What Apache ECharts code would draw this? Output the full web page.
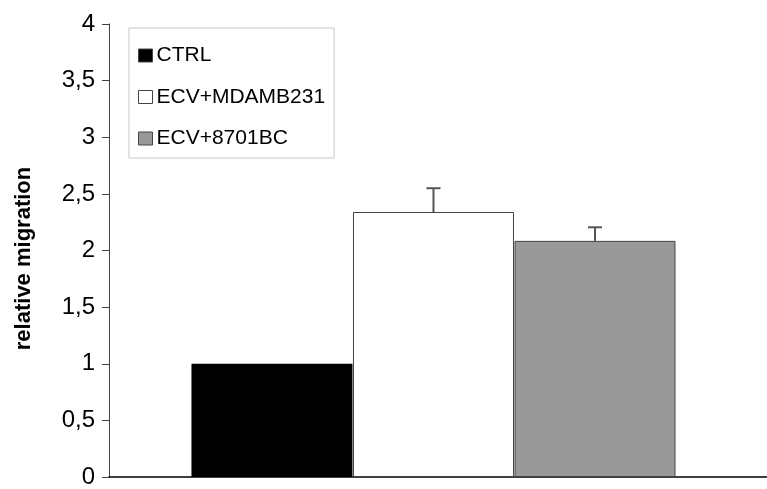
<!DOCTYPE html>
<html>
<head>
<meta charset="utf-8">
<script src="https://cdn.jsdelivr.net/npm/echarts@6/dist/echarts.min.js"></script>
<style>
html,body{margin:0;padding:0;background:#fff;}
#c{width:767px;height:489px;}
</style>
</head>
<body>
<div id="c"></div>
<script>
var seriesNames = ['CTRL', 'ECV+MDAMB231', 'ECV+8701BC'];
var positions = [0, 1, 2];
var values = [1.0, 2.34, 2.085];
var errors = [0, 0.21, 0.12];
var colors = ['#000000', '#ffffff', '#999999'];
var yTicks = [0, 0.5, 1, 1.5, 2, 2.5, 3, 3.5, 4];

var chart = echarts.init(document.getElementById('c'));
var font = '"Liberation Sans", Arial, sans-serif';

var series = seriesNames.map(function (name, i) {
  return {
    name: name,
    type: 'bar',
    barWidth: 161,
    barGap: '-100%',
    data: [[positions[i], values[i]]],
    itemStyle: {
      color: colors[i],
      borderColor: i === 0 ? '#000' : '#444',
      borderWidth: i === 0 ? 0 : 1
    },
    z: 2
  };
});

series.push({
  type: 'custom',
  name: 'err',
  data: positions.map(function (p, i) { return [p, values[i], errors[i]]; }),
  renderItem: function (params, api) {
    var err = api.value(2);
    if (!err) return null;
    var x = api.value(0), v = api.value(1);
    var top = api.coord([x, v]);
    var hi = api.coord([x, v + err]);
    var half = 7;
    return {
      type: 'group',
      children: [
        {type: 'line', shape: {x1: top[0], y1: top[1], x2: hi[0], y2: hi[1]}, style: {stroke: '#555', lineWidth: 2}},
        {type: 'line', shape: {x1: hi[0] - half, y1: hi[1], x2: hi[0] + half, y2: hi[1]}, style: {stroke: '#555', lineWidth: 2}}
      ]
    };
  },
  z: 3,
  silent: true
});

chart.setOption({
  animation: false,
  backgroundColor: '#fff',
  grid: {left: 109, right: 0, top: 24, bottom: 7, containLabel: false},
  legend: {
    data: seriesNames,
    orient: 'vertical',
    left: 129,
    top: 28,
    padding: [17, 9, 9, 9],
    itemGap: 20.5,
    itemWidth: 14,
    itemHeight: 13,
    borderColor: '#c8c8c8',
    borderWidth: 1,
    backgroundColor: '#fff',
    icon: 'rect',
    textStyle: {fontFamily: font, fontSize: 21, color: '#000', padding: [0, 0, 0, -1]},
    itemStyle: {borderColor: '#444', borderWidth: 1}
  },
  xAxis: {
    type: 'value',
    min: -1.009,
    max: 3.065,
    axisLine: {show: true, onZero: false, lineStyle: {color: '#000', width: 1.5}},
    axisTick: {show: false},
    axisLabel: {show: false},
    splitLine: {show: false}
  },
  yAxis: {
    type: 'value',
    min: 0,
    max: 4,
    interval: 0.5,
    name: 'relative migration',
    nameLocation: 'middle',
    nameGap: 74,
    nameTextStyle: {fontFamily: font, fontSize: 22, fontWeight: 'bold', color: '#000', padding: [0, 16, 0, 0]},
    axisLine: {show: true, onZero: false, lineStyle: {color: '#444', width: 1}},
    axisTick: {show: true, inside: false, length: 7, lineStyle: {color: '#444'}},
    axisLabel: {
      margin: 14,
      fontFamily: font,
      fontSize: 24,
      color: '#000',
      formatter: function (v) { return String(v).replace('.', ','); }
    },
    splitLine: {show: false}
  },
  series: series
});
</script>
</body>
</html>
